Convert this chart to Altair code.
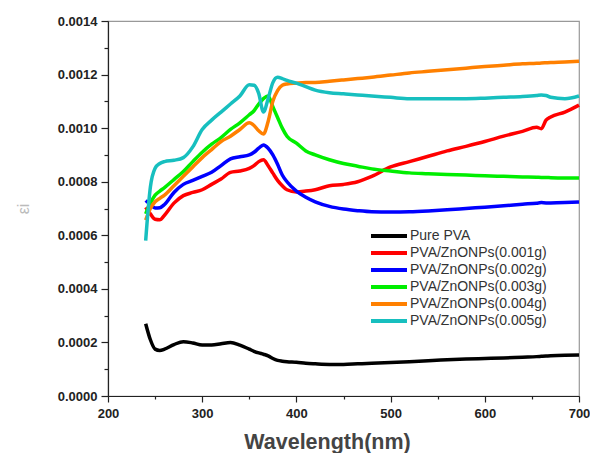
import altair as alt
import pandas as pd

# Wavelength grid (nm) shared by all spectra
wavelength = [240, 245, 250, 255, 260, 270, 280, 290, 300, 310, 320, 330, 340, 350,
              355, 360, 365, 370, 375, 380, 385, 390, 400, 410, 420, 435, 450, 465,
              480, 500, 520, 540, 560, 580, 600, 620, 640, 655, 660, 665, 670, 685, 700]

pure_pva = [0.000270, 0.000210, 0.000175, 0.000170, 0.000175, 0.000192, 0.000203, 0.000198,
            0.000190, 0.000190, 0.000195, 0.000200, 0.000190, 0.000175, 0.000167, 0.000161,
            0.000156, 0.000150, 0.000140, 0.000133, 0.000130, 0.000128, 0.000126, 0.000122,
            0.000120, 0.000118, 0.000118, 0.000120, 0.000122, 0.000125, 0.000128, 0.000132,
            0.000135, 0.000138, 0.000140, 0.000142, 0.000145, 0.000147, 0.000148, 0.000149,
            0.000150, 0.000152, 0.000153]

zno_001 = [0.000705, 0.000680, 0.000660, 0.000658, 0.000675, 0.000720, 0.000748, 0.000760,
           0.000770, 0.000790, 0.000810, 0.000835, 0.000840, 0.000850, 0.000860, 0.000875,
           0.000882, 0.000860, 0.000832, 0.000805, 0.000785, 0.000770, 0.000762, 0.000765,
           0.000770, 0.000785, 0.000790, 0.000800, 0.000820, 0.000855, 0.000875, 0.000895,
           0.000915, 0.000932, 0.000950, 0.000970, 0.000988, 0.001003, 0.000998, 0.001030,
           0.001042, 0.001060, 0.001086]

zno_002 = [0.000730, 0.000715, 0.000702, 0.000703, 0.000715, 0.000760, 0.000790, 0.000805,
           0.000820, 0.000835, 0.000860, 0.000885, 0.000893, 0.000900, 0.000910, 0.000925,
           0.000937, 0.000925, 0.000900, 0.000865, 0.000825, 0.000800, 0.000765, 0.000742,
           0.000725, 0.000708, 0.000698, 0.000692, 0.000688, 0.000687, 0.000688, 0.000691,
           0.000695, 0.000700, 0.000705, 0.000710, 0.000716, 0.000720, 0.000722, 0.000721,
           0.000721, 0.000722, 0.000724]

zno_003 = [0.000680, 0.000720, 0.000750, 0.000765, 0.000778, 0.000808, 0.000838, 0.000875,
           0.000910, 0.000940, 0.000965, 0.000995, 0.001020, 0.001050, 0.001065, 0.001090,
           0.001110, 0.001120, 0.001080, 0.001040, 0.001000, 0.000970, 0.000944, 0.000915,
           0.000900, 0.000882, 0.000868, 0.000858, 0.000848, 0.000840, 0.000833, 0.000830,
           0.000827, 0.000825, 0.000822, 0.000820, 0.000818, 0.000817, 0.000816, 0.000816,
           0.000815, 0.000814, 0.000814]

zno_004 = [0.000657, 0.000700, 0.000725, 0.000738, 0.000750, 0.000785, 0.000820, 0.000855,
           0.000890, 0.000920, 0.000950, 0.000970, 0.000995, 0.001020, 0.001010, 0.000990,
           0.000978, 0.001025, 0.001100, 0.001140, 0.001160, 0.001165, 0.001168, 0.001170,
           0.001170, 0.001175, 0.001180, 0.001185, 0.001190, 0.001198, 0.001206, 0.001212,
           0.001218, 0.001224, 0.001230, 0.001235, 0.001240, 0.001242, 0.001243, 0.001244,
           0.001245, 0.001247, 0.001250]

zno_005 = [0.000580, 0.000780, 0.000850, 0.000868, 0.000875, 0.000880, 0.000890, 0.000930,
           0.000995, 0.001030, 0.001060, 0.001090, 0.001120, 0.001162, 0.001160, 0.001130,
           0.001060, 0.001110, 0.001170, 0.001190, 0.001185, 0.001178, 0.001168, 0.001155,
           0.001142, 0.001132, 0.001128, 0.001124, 0.001120, 0.001115, 0.001110, 0.001110,
           0.001110, 0.001110, 0.001112, 0.001115, 0.001118, 0.001122, 0.001124, 0.001122,
           0.001115, 0.001110, 0.001120]

series_names = ["Pure PVA", "PVA/ZnONPs(0.001g)", "PVA/ZnONPs(0.002g)",
                "PVA/ZnONPs(0.003g)", "PVA/ZnONPs(0.004g)", "PVA/ZnONPs(0.005g)"]
series_values = [pure_pva, zno_001, zno_002, zno_003, zno_004, zno_005]
series_colors = ["#000000", "#ff0000", "#0000ff", "#00ee00", "#ff8000", "#17bfbf"]

x_ticks = [200, 250, 300, 350, 400, 450, 500, 550, 600, 650, 700]
y_ticks = [i * 0.0001 for i in range(15)]

rows = []
for name, vals in zip(series_names, series_values):
    for order, (w, v) in enumerate(zip(wavelength, vals)):
        rows.append({"series": name, "wavelength": w, "eps": v, "order": order})
df = pd.DataFrame(rows)

# a short horizontal stroke used as the legend swatch
legend_swatch = "M-3,0L3,0"

chart = alt.Chart(df).mark_line(strokeWidth=3.5, interpolate="monotone").encode(
    x=alt.X("wavelength:Q",
            scale=alt.Scale(domain=[200, 700], nice=False, zero=False),
            axis=alt.Axis(
                values=x_ticks,
                labelExpr="datum.value % 100 === 0 ? format(datum.value, 'd') : ''",
                tickSize={"condition": {"test": "datum.value % 100 === 0", "value": 6}, "value": 3},
                labelFlush=False,
                title="Wavelength(nm)",
                titleFontSize=21.5, titleFontWeight="bold", titleColor="#444444",
                titlePadding=11, titleX=219,
                labelPadding=5)),
    y=alt.Y("eps:Q",
            scale=alt.Scale(domain=[0, 0.0014], nice=False),
            axis=alt.Axis(
                values=y_ticks,
                labelExpr="round(datum.value * 10000) % 2 === 0 ? format(datum.value, '.4f') : ''",
                tickSize={"condition": {"test": "round(datum.value * 10000) % 2 === 0", "value": 7},
                          "value": 4},
                labelFlush=False,
                title="εi",
                titleFontSize=16, titleFontWeight="normal", titleColor="#bbbbbb",
                titlePadding=26,
                labelPadding=4)),
    color=alt.Color("series:N",
                    scale=alt.Scale(domain=series_names, range=series_colors),
                    legend=alt.Legend(
                        title=None, orient="none", legendX=273, legendY=207,
                        symbolType=legend_swatch, symbolSize=144, symbolStrokeWidth=4,
                        labelFontSize=14, labelColor="#333333", labelFont="Liberation Sans",
                        rowPadding=1, labelOffset=13, padding=0)),
    order="order:Q",
).properties(
    width=471, height=375,
    autosize="none",
    padding={"left": 108, "top": 21, "right": 11, "bottom": 57},
).configure_view(
    stroke="#999999", strokeWidth=1.2
).configure_axis(
    domainColor="#222222", domainWidth=1.2, tickColor="#222222", tickWidth=1.2,
    grid=False, labelFont="Liberation Sans", titleFont="Liberation Sans",
    labelFontSize=13, labelFontWeight="bold", labelColor="#222222",
)

chart.save("out.html", embed_options={"renderer": "svg", "actions": False})
